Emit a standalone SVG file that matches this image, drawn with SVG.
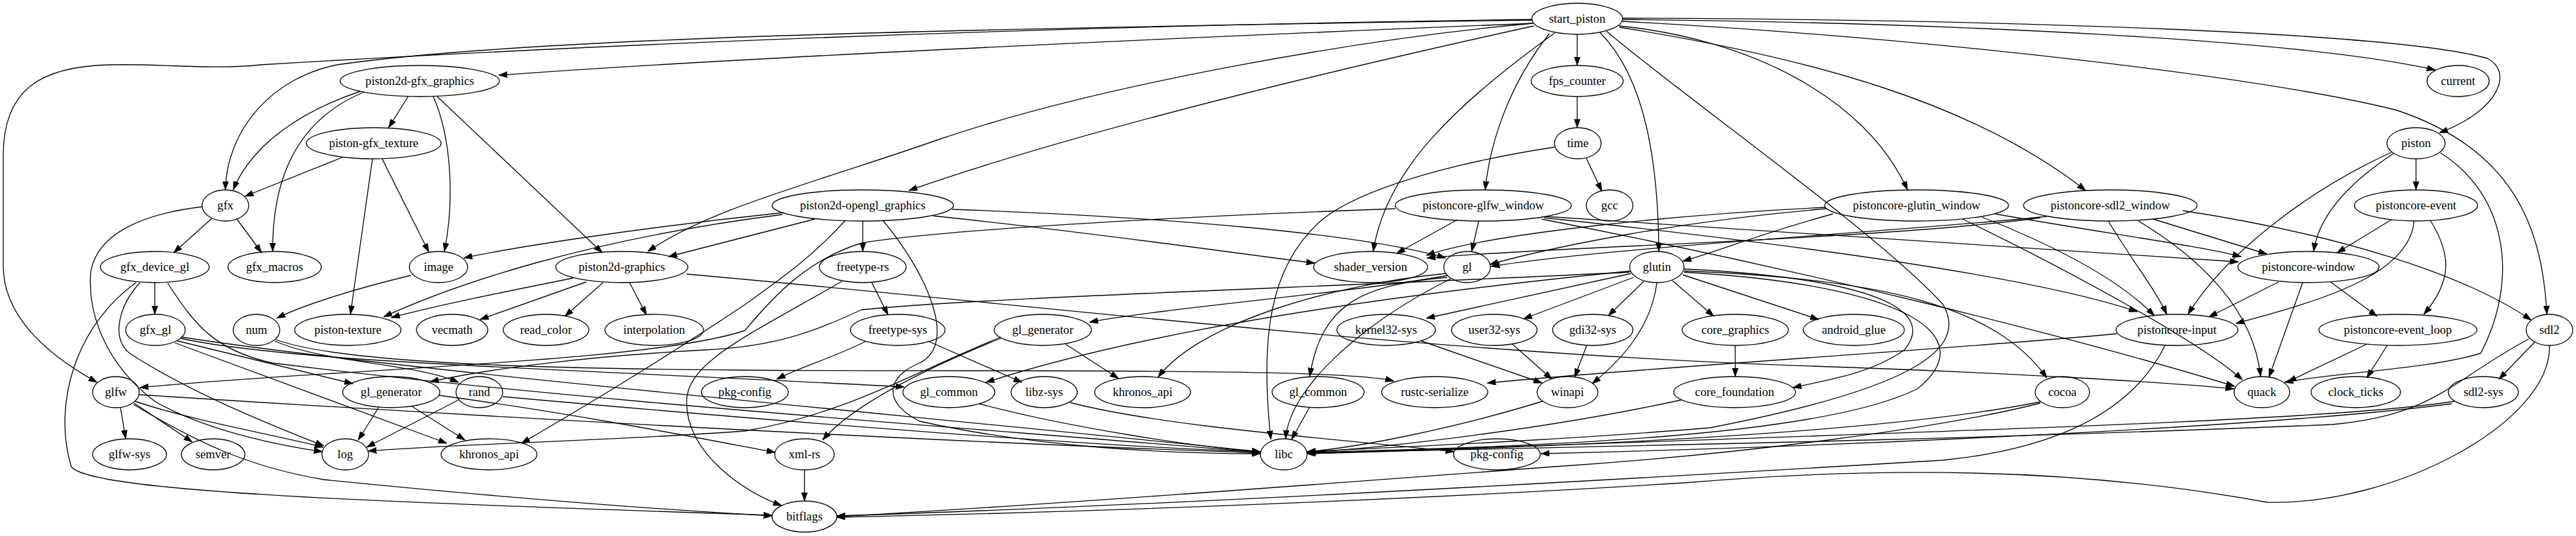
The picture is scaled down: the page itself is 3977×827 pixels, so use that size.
<svg xmlns="http://www.w3.org/2000/svg" width="3977" height="827" viewBox="0 0 3977 827">
<style>
.n ellipse{fill:none;stroke:#000;stroke-width:1.33}
.n text{font-family:"Liberation Serif","Times New Roman",serif;font-size:18.67px;text-anchor:middle;fill:#000}
#edges path{fill:none;stroke:#000;stroke-width:1.33;marker-end:url(#a)}
</style>
<defs>
<marker id="a" viewBox="0 0 10 7" refX="10" refY="3.5" markerWidth="13.3" markerHeight="9.3" markerUnits="userSpaceOnUse" orient="auto"><path d="M0,0 L10,3.5 L0,7 z" fill="#000" stroke="#000" stroke-width="0.5"/></marker>
</defs>
<rect width="3977" height="827" fill="#fff"/>
<g id="edges">
<path d="M2366,36 C1900,55 1200,85 770,116"/>
<path d="M2366,31 C1400,45 800,60 520,100 C420,120 350,200 348,293"/>
<path d="M2366,30 C1600,40 900,70 402,100 C330,108 250,98 171,100 C60,102 5,140 5,240 L5,410 C5,480 60,540 150,590"/>
<path d="M2368,40 C2150,88 1700,190 1403,294"/>
<path d="M2367,36 C2100,60 1700,130 1450,215 C1250,285 1100,320 1000,388"/>
<path d="M2400,51 C2250,160 2140,260 2120,388"/>
<path d="M2392,52 C2330,130 2300,220 2293,293"/>
<path d="M2435,53 L2435,101"/>
<path d="M2470,50 C2540,120 2560,250 2561,388"/>
<path d="M2500,40 C2700,60 2880,150 2945,293"/>
<path d="M2500,42 C2800,90 3050,160 3220,294"/>
<path d="M2505,30 C3000,35 3550,60 3760,108"/>
<path d="M2505,28 C3100,30 3700,50 3840,90 C3880,110 3860,170 3766,205"/>
<path d="M2505,33 C3000,60 3500,120 3700,170 C3880,230 3925,350 3932,485"/>
<path d="M2480,48 C2600,150 2900,360 3000,470 C3040,540 2950,600 2640,660 C2400,680 2150,690 2018,697"/>
<path d="M556,141 C470,170 390,220 360,293"/>
<path d="M562,142 C470,180 420,260 421,388"/>
<path d="M630,149 L600,197"/>
<path d="M669,149 C700,220 700,320 686,388"/>
<path d="M675,149 L930,390"/>
<path d="M528,243 L378,303"/>
<path d="M575,245 L541,485"/>
<path d="M590,245 L662,389"/>
<path d="M327,337 L268,390"/>
<path d="M365,337 L404,390"/>
<path d="M312,319 C220,330 150,360 140,420 C135,480 160,560 240,620 C330,670 450,690 498,697"/>
<path d="M239,436 L239,485"/>
<path d="M216,436 C185,470 170,520 200,545 C300,610 430,660 500,688"/>
<path d="M210,436 C120,500 80,620 110,720 C140,760 600,775 1192,795"/>
<path d="M259,437 C300,500 330,540 420,560 C900,620 1500,660 1946,698"/>
<path d="M274,526 L545,592"/>
<path d="M270,529 L690,684"/>
<path d="M279,522 C450,560 900,570 1396,597"/>
<path d="M280,520 C600,570 1400,640 1946,697"/>
<path d="M424,526 C500,560 640,560 708,590"/>
<path d="M426,524 C550,570 1000,572 1500,572 C1900,572 2100,575 2152,588"/>
<path d="M634,425 C550,445 470,470 427,491"/>
<path d="M905,435 L741,493"/>
<path d="M931,436 L872,488"/>
<path d="M972,436 L998,486"/>
<path d="M885,429 C780,450 680,470 604,490"/>
<path d="M1060,423 C1600,470 2200,545 2800,565 C3100,575 3350,590 3449,600"/>
<path d="M1210,328 C1000,350 800,380 716,398"/>
<path d="M1208,331 C900,370 700,440 592,489"/>
<path d="M1258,338 L1032,396"/>
<path d="M1332,341 L1332,388"/>
<path d="M1440,333 C1700,360 1900,390 2030,406"/>
<path d="M1470,323 C1800,335 2100,360 2232,398"/>
<path d="M1305,340 C1260,390 1220,420 1150,470 C1000,570 880,640 805,684"/>
<path d="M1363,340 C1430,420 1480,530 1420,560 C1370,580 1360,620 1420,650 C1600,690 1800,700 1946,700"/>
<path d="M1346,436 L1371,486"/>
<path d="M1300,434 C1150,520 1060,560 1060,620 C1060,700 1150,760 1207,780"/>
<path d="M1432,526 L1578,590"/>
<path d="M1336,527 C1290,550 1240,565 1199,585"/>
<path d="M1512,623 C1650,660 1850,690 1946,697"/>
<path d="M1652,621 C1800,660 2100,680 2245,697"/>
<path d="M585,628 L553,679"/>
<path d="M636,627 L718,679"/>
<path d="M678,610 C900,640 1100,680 1197,698"/>
<path d="M708,617 L566,690"/>
<path d="M776,612 C1200,650 1700,690 1946,697"/>
<path d="M1645,531 L1727,584"/>
<path d="M1545,522 C1450,560 1320,620 1270,679"/>
<path d="M1545,520 C1400,580 1300,640 1150,665 C950,680 700,685 568,696"/>
<path d="M1242,725 L1242,773"/>
<path d="M186,629 L194,677"/>
<path d="M207,622 L297,682"/>
<path d="M208,619 C300,650 420,670 499,690"/>
<path d="M215,609 C700,640 1400,680 1946,699"/>
<path d="M206,624 C300,680 380,720 500,740 C800,770 1000,785 1192,796"/>
<path d="M2235,425 C2100,450 1800,475 1682,497"/>
<path d="M2234,428 C2100,440 2040,470 2022,581"/>
<path d="M2232,422 C2050,440 1850,500 1788,582"/>
<path d="M2240,430 C2100,500 1990,600 1985,677"/>
<path d="M2400,227 C2250,250 2100,290 2040,340 C1960,410 1945,520 1962,678"/>
<path d="M2449,244 L2473,295"/>
<path d="M2435,149 L2435,197"/>
<path d="M2250,339 L2156,391"/>
<path d="M2283,341 L2272,388"/>
<path d="M2154,322 C1800,335 1450,355 1330,375 C1250,400 1200,450 1150,510 C1000,560 500,570 216,598"/>
<path d="M2386,334 C2800,360 3200,390 3456,404"/>
<path d="M2384,336 C2800,380 3150,430 3300,481"/>
<path d="M2380,338 C2800,420 3200,520 3450,596"/>
<path d="M2830,330 C2720,360 2660,385 2598,403"/>
<path d="M2820,322 C2600,340 2400,380 2300,408"/>
<path d="M2818,320 C2600,330 2300,360 2202,394"/>
<path d="M3080,330 C3250,360 3400,380 3460,396"/>
<path d="M3060,335 C3200,390 3280,440 3326,487"/>
<path d="M3030,338 C3200,420 3400,530 3462,586"/>
<path d="M3370,325 C3600,360 3800,420 3908,494"/>
<path d="M3324,338 L3500,392"/>
<path d="M3300,340 C3400,400 3480,480 3490,581"/>
<path d="M3255,341 C3290,400 3330,450 3345,485"/>
<path d="M3160,334 C2900,360 2500,380 2302,411"/>
<path d="M3150,336 C2900,370 2400,380 2203,398"/>
<path d="M3730,245 L3730,293"/>
<path d="M3695,237 C3630,280 3580,330 3572,388"/>
<path d="M3692,235 C3550,300 3430,400 3378,485"/>
<path d="M3768,236 C3870,300 3890,430 3830,545 C3750,570 3600,575 3527,590"/>
<path d="M3692,339 L3608,390"/>
<path d="M3727,341 C3720,420 3600,460 3452,499"/>
<path d="M3752,340 C3790,400 3780,440 3742,485"/>
<path d="M3518,435 L3410,489"/>
<path d="M3555,436 L3503,582"/>
<path d="M3598,435 L3670,488"/>
<path d="M3343,532 C3300,620 3200,690 3000,710 C2500,740 1800,780 1292,796"/>
<path d="M3268,515 C3000,540 2500,570 2296,591"/>
<path d="M3654,531 L3532,589"/>
<path d="M3686,532 L3654,583"/>
<path d="M3913,528 L3858,585"/>
<path d="M3904,523 C3780,590 3760,640 3600,655 C3000,680 2400,690 2018,699"/>
<path d="M3936,533 C3940,650 3700,780 3500,775 C3200,720 2900,720 2600,745 C2200,770 1700,790 1292,798"/>
<path d="M3790,619 C3600,650 3000,665 2018,700"/>
<path d="M3785,623 C3500,660 2800,690 2379,700"/>
<path d="M2518,422 L2202,491"/>
<path d="M2522,428 L2352,492"/>
<path d="M2538,434 L2483,487"/>
<path d="M2582,433 L2646,488"/>
<path d="M2598,424 L2808,493"/>
<path d="M2558,436 C2550,500 2510,550 2458,592"/>
<path d="M2600,415 C2900,430 2990,480 2940,540 C2890,575 2830,585 2768,598"/>
<path d="M2600,418 C2900,430 3080,470 3160,583"/>
<path d="M2600,420 C2950,440 3060,520 2960,600 C2800,680 2300,690 2018,698"/>
<path d="M2518,418 C2200,450 1800,500 1522,590"/>
<path d="M2516,420 C2000,445 1500,460 1330,478 C1260,510 1200,535 1087,540 C900,550 750,570 664,589"/>
<path d="M2194,526 L2381,591"/>
<path d="M2335,531 L2396,585"/>
<path d="M2450,532 L2431,582"/>
<path d="M2382,619 C2250,660 2100,690 2018,697"/>
<path d="M2679,533 L2679,581"/>
<path d="M2596,617 C2400,660 2150,690 2018,698"/>
<path d="M3150,620 C2900,670 2400,690 2018,700"/>
<path d="M3150,622 C3000,660 2700,700 2400,720 C2000,750 1600,780 1292,797"/>
<path d="M2022,628 L1994,678"/>
</g>
<g id="n_start_piston" class="n"><ellipse cx="2435" cy="29" rx="70" ry="24"/><text x="2435" y="35">start_piston</text></g>
<g id="n_p2d_gfx" class="n"><ellipse cx="648" cy="125" rx="123" ry="24"/><text x="648" y="131">piston2d-gfx_graphics</text></g>
<g id="n_fps" class="n"><ellipse cx="2435" cy="125" rx="71" ry="24"/><text x="2435" y="131">fps_counter</text></g>
<g id="n_current" class="n"><ellipse cx="3795" cy="125" rx="48" ry="24"/><text x="3795" y="131">current</text></g>
<g id="n_pgfx_tex" class="n"><ellipse cx="577" cy="221" rx="104" ry="24"/><text x="577" y="227">piston-gfx_texture</text></g>
<g id="n_time" class="n"><ellipse cx="2436" cy="221" rx="36" ry="24"/><text x="2436" y="227">time</text></g>
<g id="n_piston" class="n"><ellipse cx="3730" cy="221" rx="45" ry="24"/><text x="3730" y="227">piston</text></g>
<g id="n_gfx" class="n"><ellipse cx="348" cy="317" rx="36" ry="24"/><text x="348" y="323">gfx</text></g>
<g id="n_p2d_ogl" class="n"><ellipse cx="1332" cy="317" rx="140" ry="24"/><text x="1332" y="323">piston2d-opengl_graphics</text></g>
<g id="n_glfw_win" class="n"><ellipse cx="2290" cy="317" rx="136" ry="24"/><text x="2290" y="323">pistoncore-glfw_window</text></g>
<g id="n_gcc" class="n"><ellipse cx="2485" cy="317" rx="36" ry="24"/><text x="2485" y="323">gcc</text></g>
<g id="n_glutin_win" class="n"><ellipse cx="2959" cy="317" rx="142" ry="24"/><text x="2959" y="323">pistoncore-glutin_window</text></g>
<g id="n_sdl2_win" class="n"><ellipse cx="3258" cy="317" rx="134" ry="24"/><text x="3258" y="323">pistoncore-sdl2_window</text></g>
<g id="n_event" class="n"><ellipse cx="3730" cy="317" rx="95" ry="24"/><text x="3730" y="323">pistoncore-event</text></g>
<g id="n_gfx_dev" class="n"><ellipse cx="239" cy="412" rx="84" ry="24"/><text x="239" y="418">gfx_device_gl</text></g>
<g id="n_gfx_macros" class="n"><ellipse cx="424" cy="412" rx="72" ry="24"/><text x="424" y="418">gfx_macros</text></g>
<g id="n_image" class="n"><ellipse cx="677" cy="412" rx="45" ry="24"/><text x="677" y="418">image</text></g>
<g id="n_p2d" class="n"><ellipse cx="960" cy="412" rx="102" ry="24"/><text x="960" y="418">piston2d-graphics</text></g>
<g id="n_ft_rs" class="n"><ellipse cx="1332" cy="412" rx="67" ry="24"/><text x="1332" y="418">freetype-rs</text></g>
<g id="n_shader" class="n"><ellipse cx="2116" cy="412" rx="88" ry="24"/><text x="2116" y="418">shader_version</text></g>
<g id="n_gl" class="n"><ellipse cx="2265" cy="412" rx="36" ry="24"/><text x="2265" y="418">gl</text></g>
<g id="n_glutin" class="n"><ellipse cx="2558" cy="412" rx="42" ry="24"/><text x="2558" y="418">glutin</text></g>
<g id="n_window" class="n"><ellipse cx="3564" cy="412" rx="109" ry="24"/><text x="3564" y="418">pistoncore-window</text></g>
<g id="n_gfx_gl" class="n"><ellipse cx="240" cy="509" rx="46" ry="24"/><text x="240" y="515">gfx_gl</text></g>
<g id="n_num" class="n"><ellipse cx="396" cy="509" rx="36" ry="24"/><text x="396" y="515">num</text></g>
<g id="n_ptex" class="n"><ellipse cx="537" cy="509" rx="82" ry="24"/><text x="537" y="515">piston-texture</text></g>
<g id="n_vecmath" class="n"><ellipse cx="698" cy="509" rx="55" ry="24"/><text x="698" y="515">vecmath</text></g>
<g id="n_read_color" class="n"><ellipse cx="843" cy="509" rx="66" ry="24"/><text x="843" y="515">read_color</text></g>
<g id="n_interp" class="n"><ellipse cx="1010" cy="509" rx="76" ry="24"/><text x="1010" y="515">interpolation</text></g>
<g id="n_ft_sys" class="n"><ellipse cx="1386" cy="509" rx="73" ry="24"/><text x="1386" y="515">freetype-sys</text></g>
<g id="n_glgen2" class="n"><ellipse cx="1610" cy="509" rx="75" ry="24"/><text x="1610" y="515">gl_generator</text></g>
<g id="n_k32" class="n"><ellipse cx="2140" cy="509" rx="76" ry="24"/><text x="2140" y="515">kernel32-sys</text></g>
<g id="n_u32" class="n"><ellipse cx="2307" cy="509" rx="66" ry="24"/><text x="2307" y="515">user32-sys</text></g>
<g id="n_g32" class="n"><ellipse cx="2459" cy="509" rx="62" ry="24"/><text x="2459" y="515">gdi32-sys</text></g>
<g id="n_cg" class="n"><ellipse cx="2679" cy="509" rx="82" ry="24"/><text x="2679" y="515">core_graphics</text></g>
<g id="n_android" class="n"><ellipse cx="2862" cy="509" rx="78" ry="24"/><text x="2862" y="515">android_glue</text></g>
<g id="n_input" class="n"><ellipse cx="3361" cy="509" rx="94" ry="24"/><text x="3361" y="515">pistoncore-input</text></g>
<g id="n_evloop" class="n"><ellipse cx="3702" cy="509" rx="122" ry="24"/><text x="3702" y="515">pistoncore-event_loop</text></g>
<g id="n_sdl2" class="n"><ellipse cx="3936" cy="509" rx="36" ry="24"/><text x="3936" y="515">sdl2</text></g>
<g id="n_glfw" class="n"><ellipse cx="179" cy="605" rx="36" ry="24"/><text x="179" y="611">glfw</text></g>
<g id="n_glgen1" class="n"><ellipse cx="604" cy="605" rx="75" ry="24"/><text x="604" y="611">gl_generator</text></g>
<g id="n_rand" class="n"><ellipse cx="740" cy="605" rx="36" ry="24"/><text x="740" y="611">rand</text></g>
<g id="n_pkg1" class="n"><ellipse cx="1150" cy="605" rx="67" ry="24"/><text x="1150" y="611">pkg-config</text></g>
<g id="n_glc1" class="n"><ellipse cx="1465" cy="605" rx="71" ry="24"/><text x="1465" y="611">gl_common</text></g>
<g id="n_libz" class="n"><ellipse cx="1612" cy="605" rx="51" ry="24"/><text x="1612" y="611">libz-sys</text></g>
<g id="n_khr2" class="n"><ellipse cx="1764" cy="605" rx="74" ry="24"/><text x="1764" y="611">khronos_api</text></g>
<g id="n_glc2" class="n"><ellipse cx="2035" cy="605" rx="71" ry="24"/><text x="2035" y="611">gl_common</text></g>
<g id="n_rustc" class="n"><ellipse cx="2215" cy="605" rx="82" ry="24"/><text x="2215" y="611">rustc-serialize</text></g>
<g id="n_winapi" class="n"><ellipse cx="2420" cy="605" rx="47" ry="24"/><text x="2420" y="611">winapi</text></g>
<g id="n_cf" class="n"><ellipse cx="2678" cy="605" rx="94" ry="24"/><text x="2678" y="611">core_foundation</text></g>
<g id="n_cocoa" class="n"><ellipse cx="3184" cy="605" rx="42" ry="24"/><text x="3184" y="611">cocoa</text></g>
<g id="n_quack" class="n"><ellipse cx="3492" cy="605" rx="43" ry="24"/><text x="3492" y="611">quack</text></g>
<g id="n_clock" class="n"><ellipse cx="3637" cy="605" rx="69" ry="24"/><text x="3637" y="611">clock_ticks</text></g>
<g id="n_sdl2sys" class="n"><ellipse cx="3834" cy="605" rx="54" ry="24"/><text x="3834" y="611">sdl2-sys</text></g>
<g id="n_glfwsys" class="n"><ellipse cx="200" cy="701" rx="57" ry="24"/><text x="200" y="707">glfw-sys</text></g>
<g id="n_semver" class="n"><ellipse cx="329" cy="701" rx="49" ry="24"/><text x="329" y="707">semver</text></g>
<g id="n_log" class="n"><ellipse cx="533" cy="701" rx="36" ry="24"/><text x="533" y="707">log</text></g>
<g id="n_khr1" class="n"><ellipse cx="755" cy="701" rx="74" ry="24"/><text x="755" y="707">khronos_api</text></g>
<g id="n_xml" class="n"><ellipse cx="1242" cy="701" rx="46" ry="24"/><text x="1242" y="707">xml-rs</text></g>
<g id="n_libc" class="n"><ellipse cx="1982" cy="701" rx="36" ry="24"/><text x="1982" y="707">libc</text></g>
<g id="n_pkg2" class="n"><ellipse cx="2311" cy="701" rx="67" ry="24"/><text x="2311" y="707">pkg-config</text></g>
<g id="n_bitflags" class="n"><ellipse cx="1242" cy="797" rx="50" ry="24"/><text x="1242" y="803">bitflags</text></g>
</svg>
